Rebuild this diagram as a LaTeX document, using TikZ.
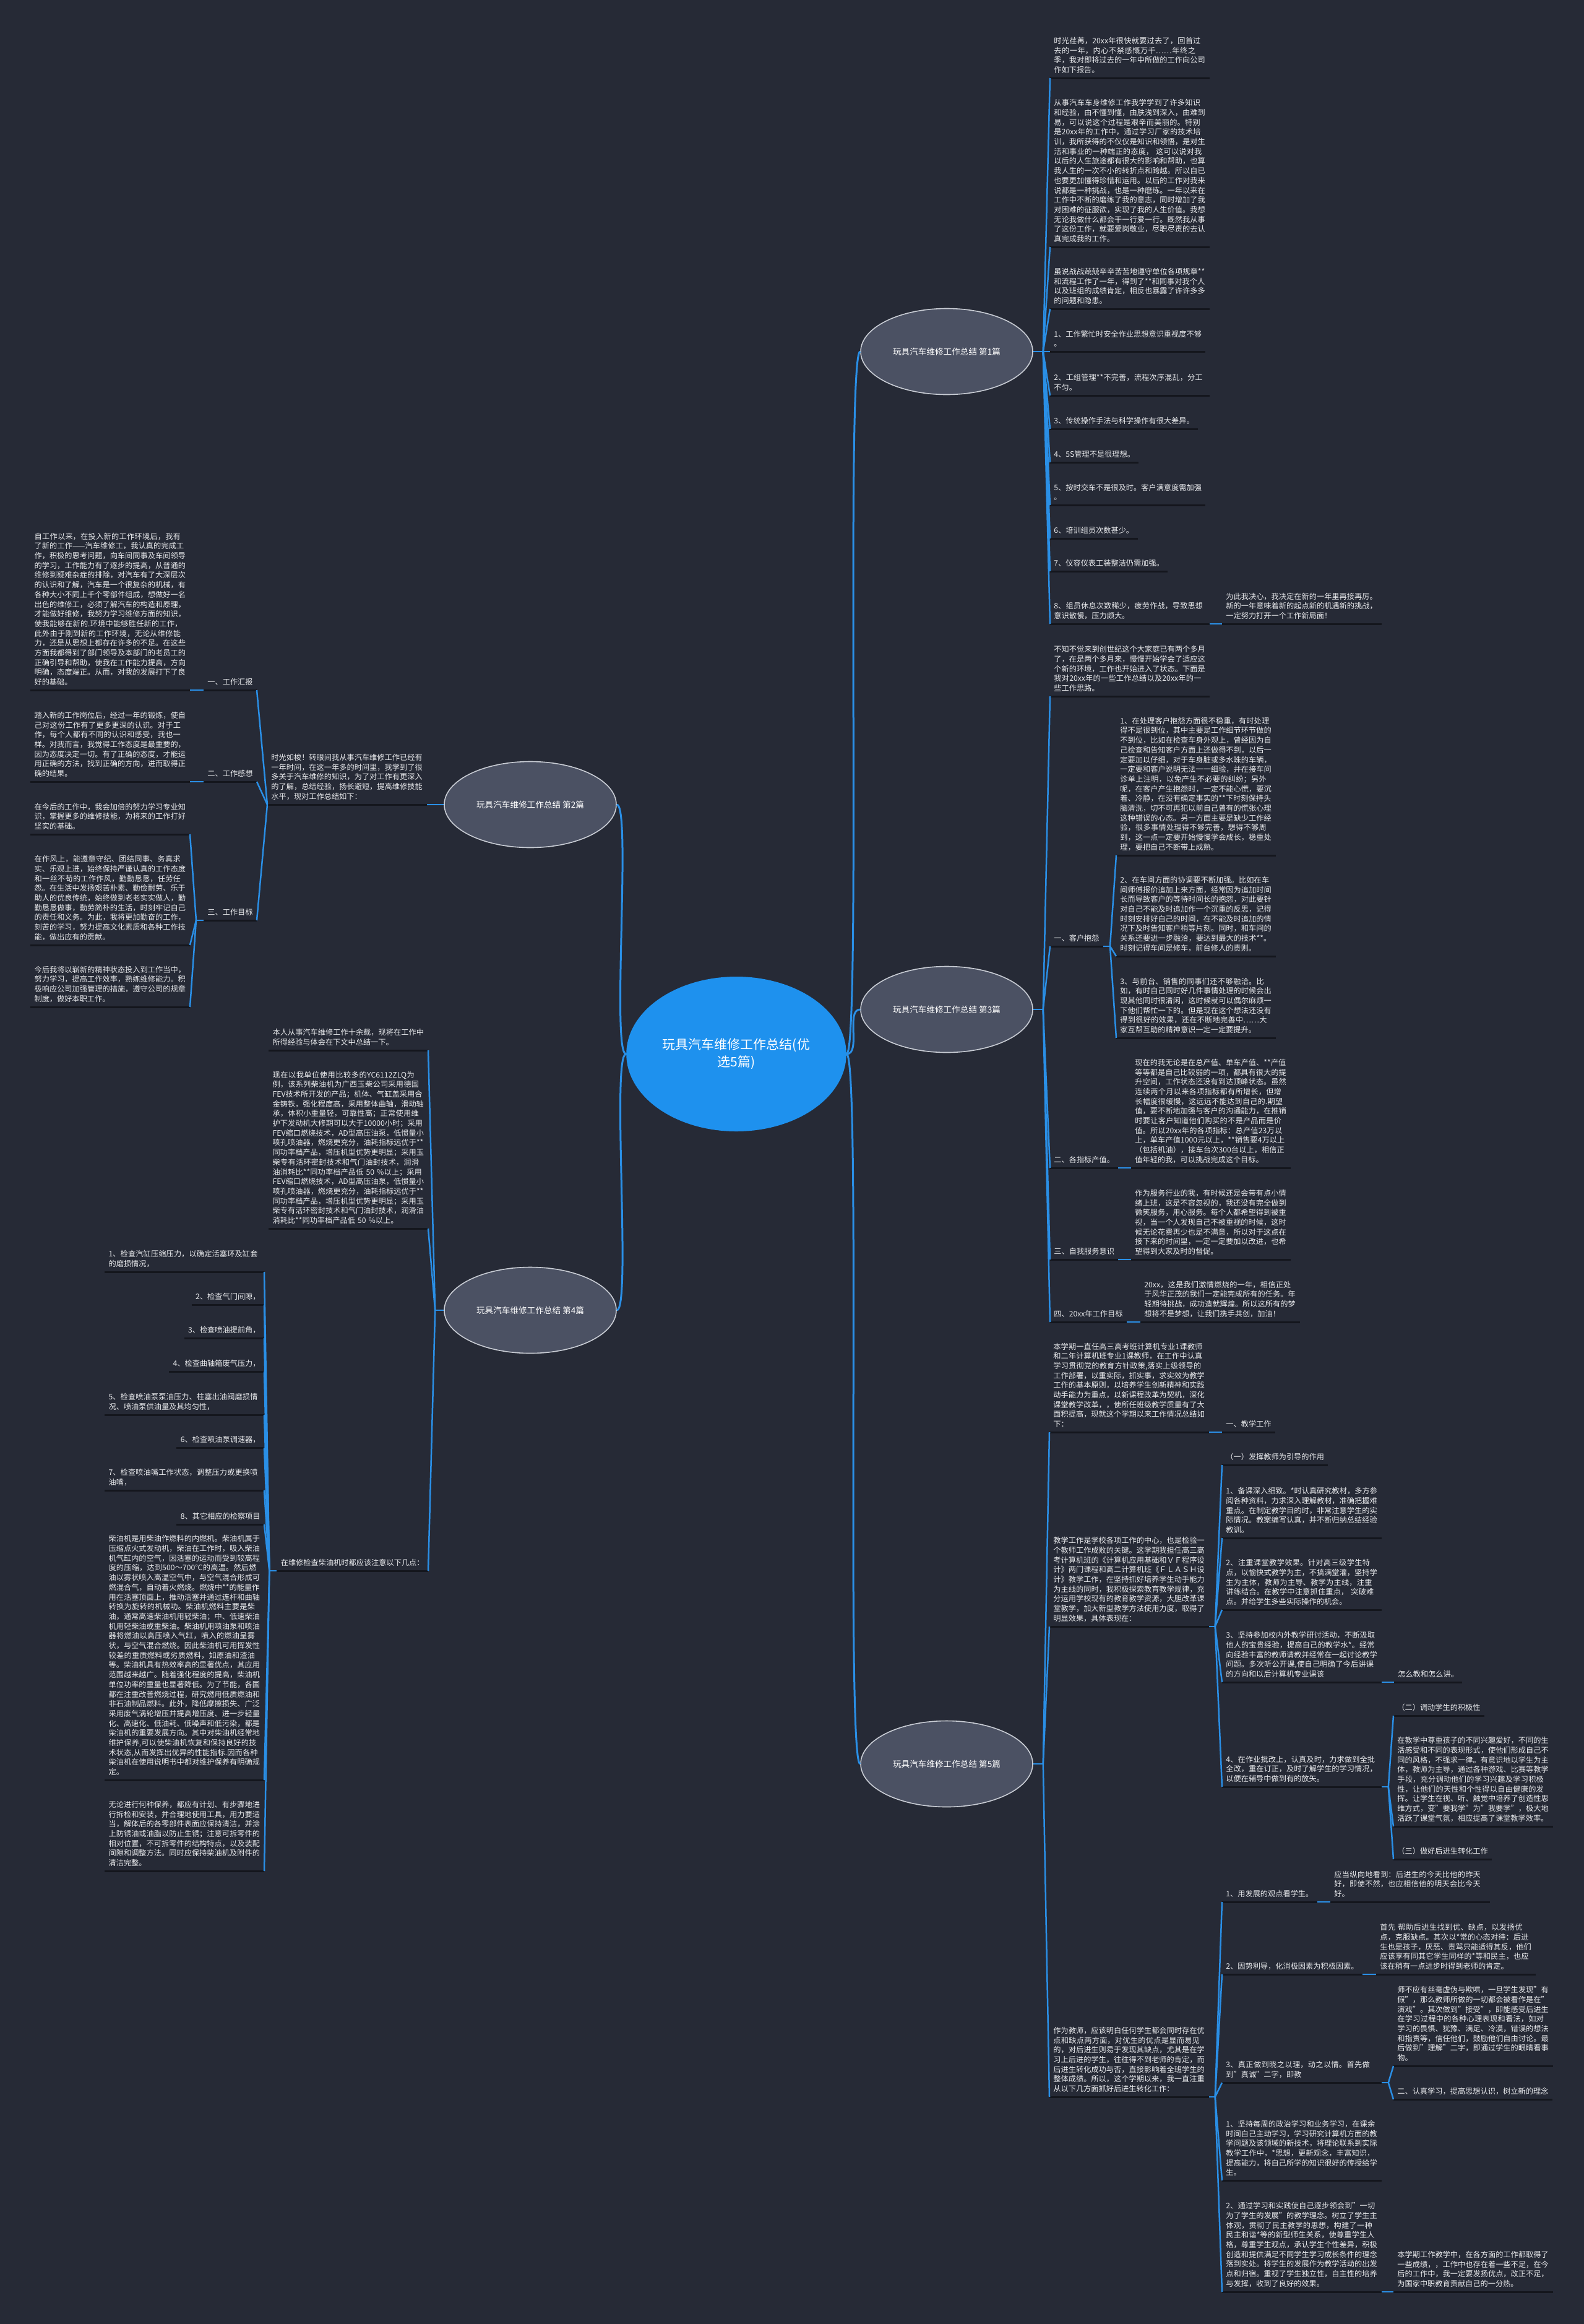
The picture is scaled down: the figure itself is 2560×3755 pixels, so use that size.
\documentclass[tikz,border=0pt]{standalone}
\usepackage{fontspec}
\setmainfont{Noto Sans CJK SC}
\usetikzlibrary{shapes.geometric}
\XeTeXlinebreaklocale "zh"
\XeTeXlinebreakskip=0pt plus 0.4pt
\setlength{\parindent}{0pt}
\definecolor{bgc}{HTML}{262A36}
\definecolor{txt}{HTML}{E8E9EC}
\definecolor{lnk}{HTML}{2A8FE6}
\definecolor{ulc}{HTML}{14161D}
\definecolor{rootc}{HTML}{1E91EE}
\definecolor{brf}{HTML}{4B5163}
\definecolor{brd}{HTML}{C8CCD4}
\newcommand\mysmall{\fontsize{6.1pt}{7.85pt}\selectfont\parindent=0pt }
\newcommand\mybranch{\fontsize{6.8pt}{8.5pt}\selectfont}
\newcommand\myroot{\fontsize{10.5pt}{14pt}\selectfont}
\begin{document}
\begin{tikzpicture}[x=0.5pt,y=-0.5pt,
  R/.style={anchor=south west, inner xsep=3pt, inner ysep=3.5pt, text=txt, font=\mysmall, align=left},
  L/.style={anchor=south east, inner xsep=3pt, inner ysep=3.5pt, text=txt, font=\mysmall, align=left},
  W/.style={text width=122.5pt},
  conn/.style={draw=lnk, line width=1.25pt},
  mainconn/.style={draw=lnk, line width=1.5pt},
  uline/.style={draw=ulc, line width=1.5pt},
  branch/.style={ellipse, fill=brf, draw=brd, line width=0.8pt, minimum width=139pt, minimum height=69.5pt, text=white, font=\mybranch},
  rootnode/.style={ellipse, fill=rootc, minimum width=170pt, minimum height=125pt, text=white, font=\myroot, align=center}]
\fill[bgc] (0,0) rectangle (2560,3755);
\useasboundingbox (0,0) rectangle (2560,3755);

% root and branches
\node[rootnode] (root) at (1190,1703) {玩具汽车维修工作总结(优\\选5篇)};
\node[branch] (b1) at (1530,568) {玩具汽车维修工作总结 第1篇};
\node[branch] (b2) at (857,1300) {玩具汽车维修工作总结 第2篇};
\node[branch] (b3) at (1530,1631) {玩具汽车维修工作总结 第3篇};
\node[branch] (b4) at (857,2117) {玩具汽车维修工作总结 第4篇};
\node[branch] (b5) at (1530,2850) {玩具汽车维修工作总结 第5篇};

% ---------------- Branch 1 ----------------
\node[R,W] (n1a) at (1697,126) {时光荏苒，20xx年很快就要过去了，回首过去的一年，内心不禁感慨万千……年终之季，我对即将过去的一年中所做的工作向公司作如下报告。};
\node[R,W] (n1b) at (1697,399) {从事汽车车身维修工作我学学到了许多知识和经验，由不懂到懂，由肤浅到深入，由难到易，可以说这个过程是艰辛而美丽的。特别是20xx年的工作中，通过学习厂家的技术培训，我所获得的不仅仅是知识和领悟，是对生活和事业的一种端正的态度， 这可以说对我以后的人生旅途都有很大的影响和帮助，也算我人生的一次不小的转折点和跨越。所以自已也要更加懂得珍惜和运用。以后的工作对我来说都是一种挑战，也是一种磨练。一年以来在工作中不断的磨练了我的意志，同时增加了我对困难的征服欲，实现了我的人生价值。我想无论我做什么都会干一行爱一行。既然我从事了这份工作，就要爱岗敬业，尽职尽责的去认真完成我的工作。};
\node[R,W] (n1c) at (1697,499) {虽说战战兢兢辛辛苦苦地遵守单位各项规章**和流程工作了一年，得到了**和同事对我个人以及班组的成绩肯定，相反也暴露了许许多多的问题和隐患。};
\node[R] (n1d) at (1697,568) {1、工作繁忙时安全作业思想意识重视度不够\\。};
\node[R,W] (n1e) at (1697,639) {2、工组管理**不完善，流程次序混乱，分工不匀。};
\node[R] (n1f) at (1697,693) {3、传统操作手法与科学操作有很大差异。};
\node[R] (n1g) at (1697,747) {4、5S管理不是很理想。};
\node[R] (n1h) at (1697,816) {5、按时交车不是很及时。客户满意度需加强\\。};
\node[R] (n1i) at (1697,870) {6、培训组员次数甚少。};
\node[R] (n1j) at (1697,923) {7、仪容仪表工装整洁仍需加强。};
\node[R,W] (n1k) at (1697,1008) {8、组员休息次数稀少，疲劳作战，导致思想意识散慢，压力颇大。};
\node[R,W] (n1l) at (1975,1008) {为此我决心，我决定在新的一年里再接再厉。新的一年意味着新的起点新的机遇新的挑战，一定努力打开一个工作新局面！};

% ---------------- Branch 2 ----------------
\node[R,W] (n2i) at (432,1300) {时光如梭！转眼间我从事汽车维修工作已经有一年时间，在这一年多的时间里，我学到了很多关于汽车维修的知识，为了对工作有更深入的了解，总结经验，扬长避短，提高维修技能水平，现对工作总结如下：};
\node[L] (n2s1) at (415,1115) {一、工作汇报};
\node[L] (n2s2) at (415,1263) {二、工作感想};
\node[L] (n2s3) at (415,1487) {三、工作目标};
\node[L,W] (n2a) at (307,1115) {自工作以来，在投入新的工作环境后，我有了新的工作——汽车维修工，我认真的完成工作，积极的思考问题，向车间同事及车间领导的学习，工作能力有了逐步的提高，从普通的维修到疑难杂症的排除，对汽车有了大深层次的认识和了解，汽车是一个很复杂的机械，有各种大小不同上千个零部件组成，想做好一名出色的维修工，必须了解汽车的构造和原理，才能做好维修，我努力学习维修方面的知识，使我能够在新的.环境中能够胜任新的工作，此外由于刚到新的工作环境，无论从维修能力，还是从思想上都存在许多的不足。在这些方面我都得到了部门领导及本部门的老员工的正确引导和帮助，使我在工作能力提高，方向明确，态度端正。从而，对我的发展打下了良好的基础。};
\node[L,W] (n2b) at (307,1263) {踏入新的工作岗位后，经过一年的锻炼，使自己对这份工作有了更多更深的认识。对于工作，每个人都有不同的认识和感受，我也一样。对我而言，我觉得工作态度是最重要的，因为态度决定一切。有了正确的态度，才能运用正确的方法，找到正确的方向，进而取得正确的结果。};
\node[L,W] (n2c) at (307,1348) {在今后的工作中，我会加倍的努力学习专业知识，掌握更多的维修技能，为将来的工作打好坚实的基础。};
\node[L,W] (n2d) at (307,1527) {在作风上，能遵章守纪、团结同事、务真求实、乐观上进，始终保持严谨认真的工作态度和一丝不苟的工作作风，勤勤恳恳，任劳任怨。在生活中发扬艰苦朴素、勤俭耐劳、乐于助人的优良传统，始终做到老老实实做人，勤勤恳恳做事，勤劳简朴的生活，时刻牢记自己的责任和义务。为此，我将更加勤奋的工作，刻苦的学习，努力提高文化素质和各种工作技能，做出应有的贡献。};
\node[L,W] (n2e) at (307,1627) {今后我将以崭新的精神状态投入到工作当中，努力学习，提高工作效率，熟练维修能力。积极响应公司加强管理的措施，遵守公司的规章制度，做好本职工作。};

% ---------------- Branch 3 ----------------
\node[R,W] (n3i) at (1697,1125) {不知不觉来到创世纪这个大家庭已有两个多月了，在是两个多月来，慢慢开始学会了适应这个新的环境，工作也开始进入了状态。下面是我对20xx年的一些工作总结以及20xx年的一些工作思路。};
\node[R] (n3s1) at (1697,1529) {一、客户抱怨};
\node[R] (n3s2) at (1697,1887) {二、各指标产值。};
\node[R] (n3s3) at (1697,2035) {三、自我服务意识};
\node[R] (n3s4) at (1697,2136) {四、20xx年工作目标};
\node[R,W] (n3a) at (1804,1382) {1、在处理客户抱怨方面很不稳重，有时处理得不是很到位，其中主要是工作细节环节做的不到位，比如在检查车身外观上，曾经因为自己检查和告知客户方面上还做得不到，以后一定要加以仔细，对于车身脏或多水珠的车辆，一定要和客户说明无法一一细验，并在接车问诊单上注明，以免产生不必要的纠纷；另外呢，在客户产生抱怨时，一定不能心慌，要沉着、冷静，在没有确定事实的**下时刻保持头脑清洗，切不可再犯以前自己曾有的慌张心理这种错误的心态。另一方面主要是缺少工作经验，很多事情处理得不够完善，想得不够周到，这一点一定要开始慢慢学会成长，稳重处理，要把自己不断带上成熟。};
\node[R,W] (n3b) at (1804,1545) {2、在车间方面的协调要不断加强。比如在车间师傅报价追加上来方面，经常因为追加时间长而导致客户的等待时间长的抱怨，对此要针对自己不能及时追加作一个沉重的反思，记得时刻安排好自己的时间，在不能及时追加的情况下及时告知客户稍等片刻。同时，和车间的关系还要进一步融洽，要达到最大的技术**。时刻记得车间是修车，前台修人的责则。};
\node[R,W] (n3c) at (1804,1677) {3、与前台、销售的同事们还不够融洽。比如，有时自己同时好几件事情处理的时候会出现其他同时很清闲，这时候就可以偶尔麻烦一下他们帮忙一下的。但是现在这个想法还没有得到很好的效果，还在不断地完善中……大家互帮互助的精神意识一定一定要提升。};
\node[R,W] (n3d) at (1828,1887) {现在的我无论是在总产值、单车产值、**产值等等都是自己比较弱的一项，都具有很大的提升空间，工作状态还没有到达顶峰状态。虽然连续两个月以来各项指标都有所增长，但增长幅度很缓慢，这远远不能达到自己的.期望值，要不断地加强与客户的沟通能力，在推销时要让客户知道他们购买的不是产品而是价值。所以20xx年的各项指标：总产值23万以上，单车产值1000元以上，**销售要4万以上（包括机油），接车台次300台以上，相信正值年轻的我，可以挑战完成这个目标。};
\node[R,W] (n3e) at (1828,2035) {作为服务行业的我，有时候还是会带有点小情绪上班，这是不容忽视的，我还没有完全做到微笑服务，用心服务。每个人都希望得到被重视，当一个人发现自己不被重视的时候，这时候无论花费再少也是不满意，所以对于这点在接下来的时间里，一定一定要加以改进，也希望得到大家及时的督促。};
\node[R,W] (n3f) at (1843,2136) {20xx，这是我们激情燃烧的一年，相信正处于风华正茂的我们一定能完成所有的任务。年轻期待挑战，成功造就辉煌。所以这所有的梦想将不是梦想，让我们携手共创，加油！};

% ---------------- Branch 4 ----------------
\node[L,W] (n4i1) at (692,1697) {本人从事汽车维修工作十余载，现将在工作中所得经验与体会在下文中总结一下。};
\node[L,W] (n4i2) at (692,1985) {现在以我单位使用比较多的YC6112ZLQ为例，该系列柴油机为广西玉柴公司采用德国FEV技术所开发的产品；机体、气缸盖采用合金铸铁，强化程度高，采用整体曲轴，滑动轴承，体积小重量轻，可靠性高；正常使用维护下发动机大修期可以大于10000小时；采用FEV缩口燃烧技术，AD型高压油泵，低惯量小喷孔喷油器，燃烧更充分，油耗指标远优于**同功率档产品，增压机型优势更明显；采用玉柴专有活环密封技术和气门油封技术，润滑油消耗比**同功率档产品低 50 \%以上；采用FEV缩口燃烧技术，AD型高压油泵，低惯量小喷孔喷油器，燃烧更充分，油耗指标远优于**同功率档产品，增压机型优势更明显；采用玉柴专有活环密封技术和气门油封技术，润滑油消耗比**同功率档产品低 50 \%以上。};
\node[L] (n4s) at (692,2538) {在维修检查柴油机时都应该注意以下几点：};
\node[L,W] (n4a) at (427,2055) {1、检查汽缸压缩压力，以确定活塞环及缸套的磨损情况，};
\node[L] (n4b) at (427,2108) {2、检查气门间隙，};
\node[L] (n4c) at (427,2162) {3、检查喷油提前角，};
\node[L] (n4d) at (427,2216) {4、检查曲轴箱废气压力，};
\node[L,W] (n4e) at (427,2286) {5、检查喷油泵泵油压力、柱塞出油阀磨损情况、喷油泵供油量及其均匀性，};
\node[L] (n4f) at (427,2339) {6、检查喷油泵调速器，};
\node[L,W] (n4g) at (427,2408) {7、检查喷油嘴工作状态，调整压力或更换喷油嘴，};
\node[L] (n4h) at (427,2463) {8、其它相应的检察项目};
\node[L,W] (n4j) at (427,2876) {柴油机是用柴油作燃料的内燃机。柴油机属于压缩点火式发动机，柴油在工作时，吸入柴油机气缸内的空气，因活塞的运动而受到较高程度的压缩，达到500～700℃的高温。然后燃油以雾状喷入高温空气中，与空气混合形成可燃混合气，自动着火燃烧。燃烧中**的能量作用在活塞顶面上，推动活塞并通过连杆和曲轴转换为旋转的机械功。柴油机燃料主要是柴油，通常高速柴油机用轻柴油；中、低速柴油机用轻柴油或重柴油。柴油机用喷油泵和喷油器将燃油以高压喷入气缸，喷入的燃油呈雾状，与空气混合燃烧。因此柴油机可用挥发性较差的重质燃料或劣质燃料，如原油和渣油等。柴油机具有热效率高的显著优点，其应用范围越来越广。随着强化程度的提高，柴油机单位功率的重量也显著降低。为了节能，各国都在注重改善燃烧过程，研究燃用低质燃油和非石油制品燃料。此外，降低摩擦损失、广泛采用废气涡轮增压并提高增压度、进一步轻量化、高速化、低油耗、低噪声和低污染，都是柴油机的重要发展方向。其中对柴油机经常地维护保养,可以使柴油机恢复和保持良好的技术状态,从而发挥出优异的性能指标.因而各种柴油机在使用说明书中都对维护保养有明确规定。};
\node[L,W] (n4k) at (427,3023) {无论进行何种保养，都应有计划、有步骤地进行拆检和安装，并合理地使用工具，用力要适当，解体后的各零部件表面应保持清洁，并涂上防锈油或油脂以防止生锈；注意可拆零件的相对位置，不可拆零件的结构特点，以及装配间隙和调整方法。同时应保持柴油机及附件的清洁完整。};

% ---------------- Branch 5 ----------------
\node[R,W] (n5i) at (1696,2314) {本学期一直任高三高考班计算机专业1课教师和二年计算机班专业1课教师，在工作中认真学习贯彻党的教育方针政策,落实上级领导的工作部署，以重实际，抓实事，求实效为教学工作的基本原则，以培养学生创新精神和实践动手能力为重点，以新课程改革为契机，深化课堂教学改革，，使所任班级教学质量有了大面积提高，现就这个学期以来工作情况总结如下：};
\node[R] (n5s) at (1975,2314) {一、教学工作};
\node[R,W] (n5p) at (1696,2628) {教学工作是学校各项工作的中心，也是检验一个教师工作成败的关键。这学期我担任高三高考计算机班的《计算机应用基础和ＶＦ程序设计》两门课程和高二计算机班《ＦＬＡＳＨ设计》教学工作，在坚持抓好培养学生动手能力为主线的同时，我积极探索教育教学规律，充分运用学校现有的教育教学资源，大胆改革课堂教学，加大新型教学方法使用力度，取得了明显效果，具体表现在：};
\node[R] (n5a) at (1975,2367) {（一）发挥教师为引导的作用};
\node[R,W] (n5b) at (1975,2485) {1、备课深入细致。*时认真研究教材，多方参阅各种资料，力求深入理解教材，准确把握难重点。在制定教学目的时，非常注意学生的实际情况。教案编写认真，并不断归纳总结经验教训。};
\node[R,W] (n5c) at (1975,2601) {2、注重课堂教学效果。针对高三级学生特点，以愉快式教学为主，不搞满堂灌，坚持学生为主体，教师为主导、教学为主线，注重讲练结合。在教学中注意抓住重点， 突破难点。并给学生多些实际操作的机会。};
\node[R,W] (n5d) at (1975,2718) {3、坚持参加校内外教学研讨活动，不断汲取他人的宝贵经验，提高自己的教学水*。经常向经验丰富的教师请教并经常在一起讨论教学问题。多次听公开课,使自己明确了今后讲课的方向和以后计算机专业课该};
\node[R] (n5d1) at (2253,2718) {怎么教和怎么讲。};
\node[R,W] (n5e) at (1975,2887) {4、在作业批改上，认真及时，力求做到全批全改，重在订正，及时了解学生的学习情况，以便在辅导中做到有的放矢。};
\node[R] (n5e1) at (2252,2772) {（二）调动学生的积极性};
\node[R,W] (n5e2) at (2252,2951) {在教学中尊重孩子的不同兴趣爱好，不同的生活感受和不同的表现形式，使他们形成自己不同的风格，不强求一律。有意识地以学生为主体，教师为主导，通过各种游戏、比赛等教学手段，充分调动他们的学习兴趣及学习积极性，让他们的天性和个性得以自由健康的发挥。让学生在视、听、触觉中培养了创造性思维方式，变"要我学"为"我要学"，极大地活跃了课堂气氛，相应提高了课堂教学效率。};
\node[R] (n5e3) at (2252,3004) {（三）做好后进生转化工作};
\node[R,W] (n5q) at (1696,3388) {作为教师，应该明白任何学生都会同时存在优点和缺点两方面，对优生的优点是显而易见的，对后进生则易于发现其缺点，尤其是在学习上后进的学生，往往得不到老师的肯定，而后进生转化成功与否，直接影响着全班学生的整体成绩。所以，这个学期以来，我一直注重从以下几方面抓好后进生转化工作：};
\node[R] (n5f) at (1975,3073) {1、用发展的观点看学生。};
\node[R,W] (n5f1) at (2150,3073) {应当纵向地看到：后进生的今天比他的昨天好，即使不然，也应相信他的明天会比今天好。};
\node[R] (n5g) at (1975,3190) {2、因势利导，化消极因素为积极因素。};
\node[R,W] (n5g1) at (2224,3190) {首先 帮助后进生找到优、缺点，以发扬优点，克服缺点。其次以*常的心态对待：后进生也是孩子，厌恶、责骂只能适得其反，他们应该享有同其它学生同样的*等和民主，也应该在稍有一点进步时得到老师的肯定。};
\node[R,W] (n5h) at (1975,3365) {3、真正做到晓之以理，动之以情。首先做到"真诚"二字，即教};
\node[R,W] (n5h1) at (2252,3338) {师不应有丝毫虚伪与欺哄，一旦学生发现"有假"，那么教师所做的一切都会被看作是在"演戏"。其次做到"接受"，即能感受后进生在学习过程中的各种心理表现和看法，如对学习的畏惧、犹豫、满足、冷漠，错误的想法和指责等，信任他们，鼓励他们自由讨论。最后做到"理解"二字，即通过学生的眼睛看事物。};
\node[R] (n5h2) at (2252,3392) {二、认真学习，提高思想认识，树立新的理念};
\node[R,W] (n5j) at (1975,3523) {1、坚持每周的政治学习和业务学习，在课余时间自己主动学习，学习研究计算机方面的教学问题及该领域的新技术，将理论联系到实际教学工作中，*思想，更新观念，丰富知识，提高能力，将自己所学的知识很好的传授给学生。};
\node[R,W] (n5k) at (1975,3703) {2、通过学习和实践使自己逐步领会到"一切为了学生的发展"的教学理念。树立了学生主体观，贯彻了民主教学的思想，构建了一种民主和谐*等的新型师生关系，使尊重学生人格，尊重学生观点，承认学生个性差异，积极创造和提供满足不同学生学习成长条件的理念落到实处。将学生的发展作为教学活动的出发点和归宿。重视了学生独立性，自主性的培养与发挥，收到了良好的效果。};
\node[R,W] (n5k1) at (2252,3703) {本学期工作教学中，在各方面的工作都取得了一些成绩，，工作中也存在着一些不足，在今后的工作中，我一定要发扬优点，改正不足，为国家中职教育贡献自己的一分热。};

% ---------------- underlines ----------------
\foreach \n in {n1a,n1b,n1c,n1d,n1e,n1f,n1g,n1h,n1i,n1j,n1k,n1l,
  n2i,n2s1,n2s2,n2s3,n2a,n2b,n2c,n2d,n2e,
  n3i,n3s1,n3s2,n3s3,n3s4,n3a,n3b,n3c,n3d,n3e,n3f,
  n4i1,n4i2,n4s,n4a,n4b,n4c,n4d,n4e,n4f,n4g,n4h,n4j,n4k,
  n5i,n5s,n5p,n5a,n5b,n5c,n5d,n5d1,n5e,n5e1,n5e2,n5e3,n5q,n5f,n5f1,n5g,n5g1,n5h,n5h1,n5h2,n5j,n5k,n5k1}
  \draw[uline] (\n.south west) -- (\n.south east);

% ---------------- connectors ----------------
\foreach \b in {b1,b3,b5}
  \draw[mainconn] (root.east) .. controls +(24,0) and +(-24,0) .. (\b.west);
\foreach \b in {b2,b4}
  \draw[mainconn] (root.west) .. controls +(-24,0) and +(24,0) .. (\b.east);

% branch 1
\coordinate (f1) at ([xshift=8pt]b1.east);
\draw[conn] (b1.east) -- (f1);
\foreach \t in {n1a,n1b,n1c,n1d,n1e,n1f,n1g,n1h,n1i,n1j,n1k}
  \draw[conn] (f1) -- (\t.south west);
\draw[conn] (n1k.south east) -- (n1l.south west);

% branch 2
\draw[conn] (n2i.south east) -- (b2.west);
\foreach \t in {n2s1,n2s2,n2s3}
  \draw[conn] (n2i.south west) -- (\t.south east);
\draw[conn] (n2s1.south west) -- (n2a.south east);
\draw[conn] (n2s2.south west) -- (n2b.south east);
\coordinate (f2) at ([xshift=-6pt]n2s3.south west);
\draw[conn] (n2s3.south west) -- (f2);
\foreach \t in {n2c,n2d,n2e}
  \draw[conn] (f2) -- (\t.south east);

% branch 3
\coordinate (f3) at ([xshift=8pt]b3.east);
\draw[conn] (b3.east) -- (f3);
\foreach \t in {n3i,n3s1,n3s2,n3s3,n3s4}
  \draw[conn] (f3) -- (\t.south west);
\coordinate (f3s) at ([xshift=5.5pt]n3s1.south east);
\draw[conn] (n3s1.south east) -- (f3s);
\foreach \t in {n3a,n3b,n3c}
  \draw[conn] (f3s) -- (\t.south west);
\draw[conn] (n3s2.south east) -- (n3d.south west);
\draw[conn] (n3s3.south east) -- (n3e.south west);
\draw[conn] (n3s4.south east) -- (n3f.south west);

% branch 4
\coordinate (f4) at ([xshift=-7pt]b4.west);
\draw[conn] (b4.west) -- (f4);
\foreach \t in {n4i1,n4i2,n4s}
  \draw[conn] (f4) -- (\t.south east);
\coordinate (f4s) at ([xshift=-6pt]n4s.south west);
\draw[conn] (n4s.south west) -- (f4s);
\foreach \t in {n4a,n4b,n4c,n4d,n4e,n4f,n4g,n4h,n4j,n4k}
  \draw[conn] (f4s) -- (\t.south east);

% branch 5
\coordinate (f5) at ([xshift=8pt]b5.east);
\draw[conn] (b5.east) -- (f5);
\foreach \t in {n5i,n5p,n5q}
  \draw[conn] (f5) -- (\t.south west);
\draw[conn] (n5i.south east) -- (n5s.south west);
\coordinate (f5p) at ([xshift=5pt]n5p.south east);
\draw[conn] (n5p.south east) -- (f5p);
\foreach \t in {n5a,n5b,n5c,n5d,n5e}
  \draw[conn] (f5p) -- (\t.south west);
\draw[conn] (n5d.south east) -- (n5d1.south west);
\coordinate (f5e) at ([xshift=5.5pt]n5e.south east);
\draw[conn] (n5e.south east) -- (f5e);
\foreach \t in {n5e1,n5e2,n5e3}
  \draw[conn] (f5e) -- (\t.south west);
\coordinate (f5q) at ([xshift=5pt]n5q.south east);
\draw[conn] (n5q.south east) -- (f5q);
\foreach \t in {n5f,n5g,n5h,n5j,n5k}
  \draw[conn] (f5q) -- (\t.south west);
\draw[conn] (n5f.south east) -- (n5f1.south west);
\draw[conn] (n5g.south east) -- (n5g1.south west);
\coordinate (f5h) at ([xshift=5.5pt]n5h.south east);
\draw[conn] (n5h.south east) -- (f5h);
\foreach \t in {n5h1,n5h2}
  \draw[conn] (f5h) -- (\t.south west);
\draw[conn] (n5k.south east) -- (n5k1.south west);
\end{tikzpicture}
\end{document}
